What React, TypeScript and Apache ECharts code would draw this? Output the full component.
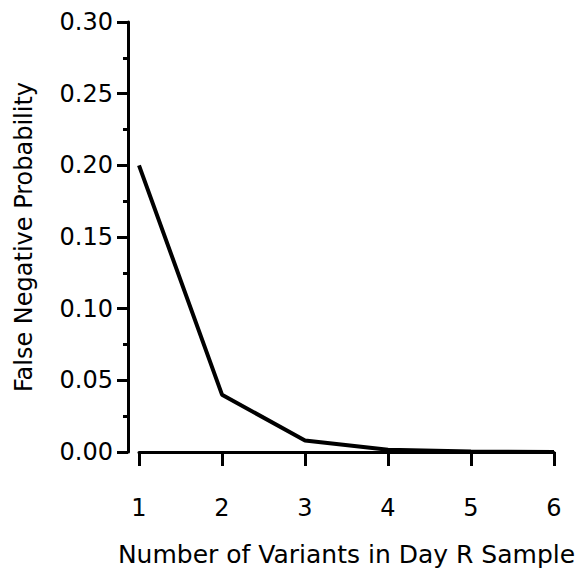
import React, { useEffect, useRef } from "react";
import * as echarts from "echarts";

const variantCounts = [1, 2, 3, 4, 5, 6];
const falseNegativeProb = [0.2, 0.04, 0.008, 0.0016, 0.00032, 0.000064];
const xTicks = [1, 2, 3, 4, 5, 6];
const yTicks = [0, 0.05, 0.1, 0.15, 0.2, 0.25, 0.3];
const xTitle = "Number of Variants in Day R Sample";
const yTitle = "False Negative Probability";

export default function App() {
  const ref = useRef<HTMLDivElement>(null);
  useEffect(() => {
    if (!ref.current) return;
    const chart = echarts.init(ref.current, null, { renderer: "svg" });
    const font = "'DejaVu Sans', 'Liberation Sans', Arial, sans-serif";
    chart.setOption({
      animation: false,
      backgroundColor: "#ffffff",
      grid: { left: 139, right: 30, top: 22, bottom: 124, containLabel: false },
      xAxis: {
        type: "value",
        min: xTicks[0],
        max: xTicks[xTicks.length - 1],
        interval: 1,
        offset: 10,
        name: xTitle,
        nameLocation: "middle",
        nameGap: 80,
        nameTextStyle: { color: "#000", fontSize: 25, fontFamily: font },
        axisLine: { show: true, lineStyle: { color: "#000", width: 3 } },
        axisTick: { show: true, length: 14, lineStyle: { color: "#000", width: 3 } },
        axisLabel: { show: true, margin: 34, color: "#000", fontSize: 24, fontFamily: font },
        splitLine: { show: false },
      },
      yAxis: {
        type: "value",
        min: yTicks[0],
        max: yTicks[yTicks.length - 1],
        interval: 0.05,
        offset: 11,
        name: yTitle,
        nameLocation: "middle",
        nameGap: 92,
        nameTextStyle: { color: "#000", fontSize: 24, fontFamily: font },
        axisLine: { show: true, lineStyle: { color: "#000", width: 3 } },
        axisTick: { show: true, length: 11, lineStyle: { color: "#000", width: 3 } },
        minorTick: { show: true, splitNumber: 2, length: 5, lineStyle: { color: "#000", width: 3 } },
        axisLabel: {
          show: true,
          margin: 15,
          color: "#000",
          fontSize: 24,
          fontFamily: font,
          formatter: (v: number) => v.toFixed(2),
        },
        splitLine: { show: false },
        minorSplitLine: { show: false },
      },
      series: [
        {
          type: "line",
          data: variantCounts.map((x, i) => [x, falseNegativeProb[i]]),
          showSymbol: false,
          symbol: "none",
          lineStyle: { color: "#000", width: 4 },
          silent: true,
        },
      ],
    });
    return () => chart.dispose();
  }, []);
  return (
    <div
      ref={ref}
      style={{ position: "absolute", left: 0, top: 0, width: 584, height: 576 }}
    />
  );
}
